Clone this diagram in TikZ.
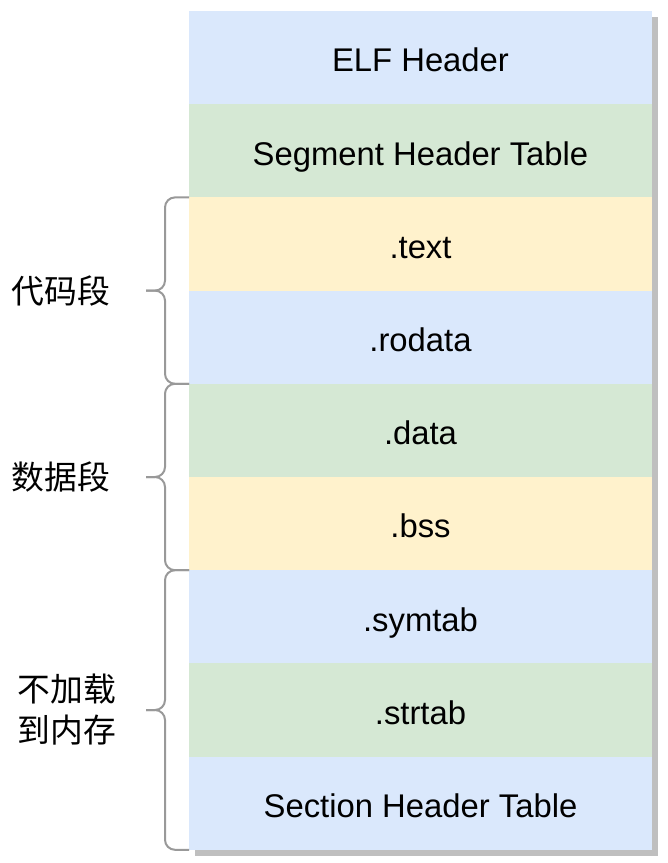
\documentclass[tikz,border=0pt]{standalone}
\usepackage{fontspec}
\setmainfont{Liberation Sans}
\newfontfamily\cjk{Noto Sans CJK SC}
\usetikzlibrary{positioning, calc}

\definecolor{elfblue}{HTML}{DAE8FC}
\definecolor{elfgreen}{HTML}{D5E8D4}
\definecolor{elfyellow}{HTML}{FFF2CC}
\definecolor{bracegray}{HTML}{999999}

\begin{document}
\begin{tikzpicture}[
                x = 0.3mm, y = -0.3mm, % one unit = one pixel
                node distance = 0mm, % sections touch
                font = \fontsize{28}{32}\selectfont
            ]

            \tikzstyle{sec}=[minimum width = 138.9mm, minimum height = 27.96mm,
            inner sep = 0pt, outer sep = 0pt, text height = 8.6mm, text depth = 0pt]
            \tikzstyle{seg}=[font = \fontsize{28}{35}\selectfont\cjk, align = center]
            \tikzstyle{brace}=[draw = bracegray, line width = 0.6mm,
            rounded corners = 3mm]

            \useasboundingbox (0,0) rectangle (667,863);

            % shadow
            \fill[black!25] (195,17) rectangle (658,856);

            \node (1) [sec, fill = elfblue, anchor = north west] at (189,11) {ELF Header};
            \node (2) [sec, fill = elfgreen, below = of 1] {Segment Header Table};
            \node (3) [sec, fill = elfyellow, below = of 2] {.text};
            \node (4) [sec, fill = elfblue, below = of 3] {.rodata};
            \node (5) [sec, fill = elfgreen, below = of 4] {.data};
            \node (6) [sec, fill = elfyellow, below = of 5] {.bss};
            \node (7) [sec, fill = elfblue, below = of 6] {.symtab};
            \node (8) [sec, fill = elfgreen, below = of 7] {.strtab};
            \node (9) [sec, fill = elfblue, below = of 8] {Section Header Table};

            \coordinate (t1) at ($(3.north west)!0.5!(4.south west) + (-43,0)$);
            \coordinate (t2) at ($(5.north west)!0.5!(6.south west) + (-43,0)$);
            \coordinate (t3) at ($(7.north west)!0.5!(9.south west) + (-43,0)$);

            \draw[brace] (3.north west) -- ++(-24,0) |- (t1);
            \draw[brace] (4.south west) -- ++(-24,0) |- (t1);
            \draw[brace] (5.north west) -- ++(-24,0) |- (t2);
            \draw[brace] (6.south west) -- ++(-24,0) |- (t2);
            \draw[brace] (7.north west) -- ++(-24,0) |- (t3);
            \draw[brace] (9.south west) -- ++(-24,0) |- (t3);

            \node (c) [seg, left = 9.5mm of t1] {代码段};
            \node (d) [seg, left = 9.5mm of t2] {数据段};
            \node (n) [seg, left = 7.8mm of t3] {不加载\\到内存};

        \end{tikzpicture}
\end{document}
